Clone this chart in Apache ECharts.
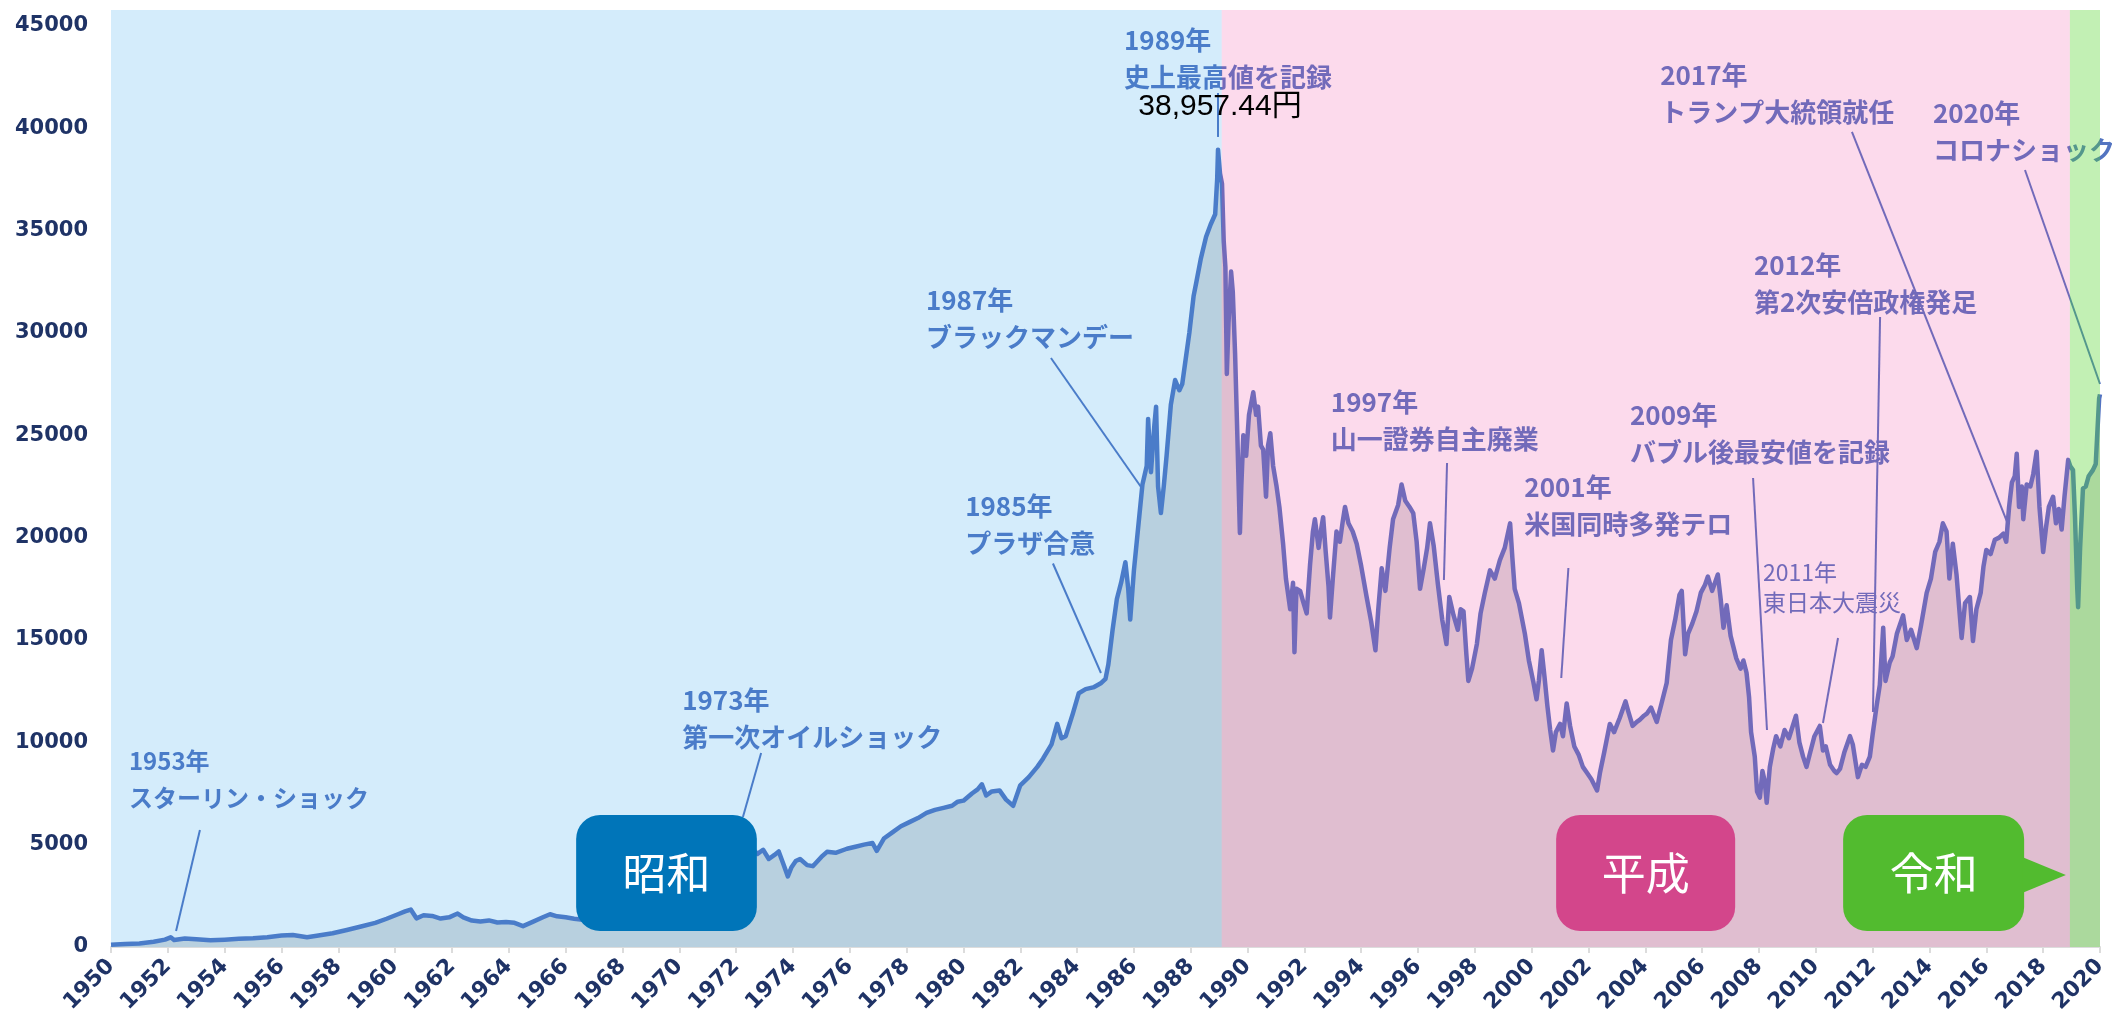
<!DOCTYPE html>
<html><head><meta charset="utf-8">
<script src="https://cdn.jsdelivr.net/npm/echarts@6/dist/echarts.min.js"></script>
<style>html,body{margin:0;padding:0;background:#fff}#c{width:2112px;height:1027px}</style>
</head><body><div id="c"></div>
<script>
// ---- DATA (x = year position on the axis, y = index level in yen) ----
const showaSeries = [[1950.0,110],[1950.5,150],[1951.0,170],[1951.5,260],[1951.9,360],[1952.1,474],[1952.22,340],[1952.6,420],[1953.0,380],[1953.5,330],[1954.0,360],[1954.5,400],[1955.0,425],[1955.5,480],[1956.0,560],[1956.4,590],[1956.9,480],[1957.3,560],[1957.8,670],[1958.3,830],[1958.8,1000],[1959.3,1180],[1959.7,1380],[1960.1,1600],[1960.35,1740],[1960.55,1829],[1960.75,1400],[1961.0,1550],[1961.3,1520],[1961.6,1390],[1961.9,1450],[1962.2,1634],[1962.4,1450],[1962.7,1290],[1963.0,1250],[1963.3,1300],[1963.6,1200],[1963.9,1220],[1964.2,1180],[1964.5,1020],[1964.8,1200],[1965.2,1450],[1965.45,1600],[1965.7,1500],[1966.0,1450],[1966.3,1380],[1966.6,1330],[1966.9,1270],[1967.2,1400],[1967.5,1600],[1967.8,1720],[1968.1,1750],[1968.5,2000],[1968.9,2350],[1969.25,2530],[1969.4,1950],[1969.7,2100],[1970.0,2000],[1970.4,2350],[1970.6,2700],[1970.65,2300],[1970.9,2700],[1971.2,3400],[1971.5,3900],[1971.8,4800],[1972.0,5350],[1972.3,4700],[1972.5,4900],[1972.75,4550],[1972.95,4750],[1973.15,4300],[1973.35,4500],[1973.5,4670],[1973.65,4100],[1973.82,3450],[1973.95,3900],[1974.1,4200],[1974.25,4300],[1974.5,4000],[1974.7,3950],[1975.0,4400],[1975.2,4650],[1975.5,4600],[1975.9,4800],[1976.2,4900],[1976.5,5000],[1976.8,5080],[1976.95,4700],[1977.2,5300],[1977.5,5600],[1977.8,5900],[1978.1,6100],[1978.4,6300],[1978.7,6550],[1979.0,6700],[1979.3,6800],[1979.6,6900],[1979.8,7100],[1980.0,7150],[1980.3,7500],[1980.5,7700],[1980.65,7950],[1980.8,7400],[1981.0,7600],[1981.27,7650],[1981.5,7200],[1981.75,6900],[1982.0,7900],[1982.3,8300],[1982.6,8800],[1982.8,9200],[1983.1,9900],[1983.3,10900],[1983.45,10200],[1983.6,10300],[1983.85,11400],[1984.06,12400],[1984.3,12600],[1984.6,12700],[1984.85,12900],[1985.0,13100],[1985.1,13800],[1985.25,15500],[1985.4,17000],[1985.55,17800],[1985.7,18800],[1985.8,17500],[1985.87,16000],[1986.0,18400],[1986.1,19800],[1986.3,22600],[1986.45,23500],[1986.5,25800],[1986.6,23200],[1986.72,25500],[1986.78,26400],[1986.85,22500],[1986.95,21200],[1987.05,22500],[1987.15,24000],[1987.3,26500],[1987.45,27700],[1987.6,27200],[1987.7,27500],[1987.8,28500],[1987.95,30000],[1988.1,31800],[1988.2,32500],[1988.35,33600],[1988.54,34700],[1988.7,35300],[1988.86,35800],[1988.93,37500],[1988.96,38957]];
const heiseiSeries = [[1989.03,37800],[1989.1,37300],[1989.16,34500],[1989.22,33200],[1989.27,28000],[1989.33,30500],[1989.42,33000],[1989.48,32000],[1989.56,29000],[1989.63,25500],[1989.73,20230],[1989.78,22500],[1989.85,25000],[1989.95,24000],[1990.05,26000],[1990.2,27100],[1990.3,26000],[1990.37,26400],[1990.47,24500],[1990.55,24300],[1990.65,22000],[1990.72,24500],[1990.8,25100],[1990.9,23500],[1991.02,22500],[1991.12,21500],[1991.25,19700],[1991.35,18000],[1991.5,16500],[1991.6,17800],[1991.65,14400],[1991.72,17500],[1991.85,17400],[1991.95,16900],[1992.08,16300],[1992.2,18700],[1992.3,20300],[1992.37,20900],[1992.5,19500],[1992.6,20500],[1992.66,21000],[1992.75,19300],[1992.85,17600],[1992.9,16100],[1993.0,18000],[1993.13,20300],[1993.25,19800],[1993.35,20800],[1993.43,21500],[1993.55,20700],[1993.7,20300],[1993.84,19700],[1994.0,18600],[1994.19,17100],[1994.35,15900],[1994.5,14500],[1994.6,16500],[1994.72,18500],[1994.85,17400],[1995.0,19500],[1995.12,20900],[1995.3,21600],[1995.42,22600],[1995.55,21800],[1995.7,21500],[1995.83,21200],[1995.95,19800],[1996.07,17500],[1996.2,18500],[1996.32,19500],[1996.42,20700],[1996.55,19600],[1996.7,17700],[1996.85,16000],[1997.0,14800],[1997.1,17100],[1997.25,16200],[1997.4,15500],[1997.5,16500],[1997.6,16400],[1997.7,14300],[1997.77,13000],[1997.9,13600],[1998.07,14800],[1998.2,16300],[1998.35,17300],[1998.53,18400],[1998.7,18000],[1998.88,18900],[1999.05,19500],[1999.24,20700],[1999.32,19000],[1999.4,17500],[1999.55,16800],[1999.76,15300],[1999.9,14000],[2000.05,13000],[2000.17,12100],[2000.25,13000],[2000.35,14500],[2000.45,13200],[2000.55,11800],[2000.65,10600],[2000.75,9600],[2000.85,10500],[2001.0,10900],[2001.1,10300],[2001.23,11900],[2001.35,10800],[2001.5,9800],[2001.65,9400],[2001.8,8800],[2001.95,8500],[2002.1,8200],[2002.3,7650],[2002.4,8500],[2002.55,9500],[2002.75,10900],[2002.9,10500],[2003.1,11200],[2003.3,12000],[2003.4,11500],[2003.55,10800],[2003.7,11000],[2003.8,11100],[2003.95,11300],[2004.05,11400],[2004.2,11700],[2004.4,11000],[2004.55,11800],[2004.75,12900],[2004.9,15000],[2005.05,16000],[2005.2,17200],[2005.28,17400],[2005.4,14300],[2005.5,15300],[2005.65,15800],[2005.8,16400],[2005.95,17300],[2006.1,17700],[2006.2,18100],[2006.35,17400],[2006.55,18200],[2006.65,17000],[2006.75,15600],[2006.86,16700],[2007.0,15200],[2007.2,14100],[2007.35,13600],[2007.45,14000],[2007.56,13400],[2007.65,12200],[2007.72,10500],[2007.85,9300],[2007.93,7600],[2008.03,7300],[2008.12,8600],[2008.2,8100],[2008.27,7050],[2008.38,8800],[2008.5,9700],[2008.6,10300],[2008.75,9800],[2008.9,10600],[2009.05,10200],[2009.3,11300],[2009.42,10000],[2009.55,9300],[2009.67,8800],[2009.8,9500],[2009.95,10300],[2010.14,10800],[2010.25,9600],[2010.35,9800],[2010.5,8900],[2010.65,8600],[2010.73,8500],[2010.85,8700],[2011.0,9500],[2011.2,10300],[2011.3,9900],[2011.48,8300],[2011.62,8900],[2011.75,8800],[2011.9,9300],[2012.0,10400],[2012.14,11800],[2012.25,12800],[2012.37,15600],[2012.45,13000],[2012.6,13900],[2012.7,14200],[2012.85,15300],[2013.07,16200],[2013.2,15000],[2013.35,15500],[2013.55,14600],[2013.7,15700],[2013.9,17300],[2014.05,18000],[2014.2,19300],[2014.35,19800],[2014.47,20700],[2014.6,20300],[2014.7,18000],[2014.82,19700],[2014.95,18200],[2015.13,15100],[2015.25,16800],[2015.42,17100],[2015.53,14950],[2015.65,16500],[2015.8,17300],[2015.9,18600],[2016.0,19400],[2016.15,19200],[2016.3,19900],[2016.45,20000],[2016.6,20200],[2016.7,19800],[2016.8,21500],[2016.9,22700],[2017.0,23000],[2017.07,24100],[2017.15,21500],[2017.25,22500],[2017.3,20900],[2017.42,22600],[2017.55,22500],[2017.65,23100],[2017.77,24200],[2017.87,21500],[2018.0,19300],[2018.1,20500],[2018.2,21500],[2018.35,22000],[2018.45,20700],[2018.55,21400],[2018.65,20400],[2018.75,22000],[2018.88,23800]];
const reiwaSeries = [[2018.95,23500],[2019.05,23300],[2019.12,21000],[2019.2,17500],[2019.23,16600],[2019.3,19500],[2019.4,22400],[2019.5,22500],[2019.6,23000],[2019.75,23300],[2019.85,23600],[2019.92,25500],[2019.97,26800],[2020.0,27000]];

const eraNames = ['昭和', '平成', '令和'];
const eraStarts = [1950, 1989.09, 2018.94];
const eraEnds = [1989.09, 2018.94, 2020];

const eventYears = ['1953年','1973年','1985年','1987年','1989年','1997年','2001年','2009年','2011年','2012年','2017年','2020年'];
const eventNames = ['スターリン・ショック','第一次オイルショック','プラザ合意','ブラックマンデー','史上最高値を記録','山一證券自主廃業','米国同時多発テロ','バブル後最安値を記録','東日本大震災','第2次安倍政権発足','トランプ大統領就任','コロナショック'];
const peakText = '38,957.44円';

// ---- LAYOUT / STYLE (annotation anchors in axis units) ----
const eraOverlay = ['rgba(40,160,235,0.2)', 'rgba(240,70,160,0.2)', 'rgba(86,213,47,0.36)'];
const eraBadgeColor = ['#0075b9', '#d3468b', '#52bb2f'];
const eraBadgeBox = [[1966.37, 1972.73], [2000.86, 2007.16], [2010.96, 2017.33]];
const badgeValRange = [782, 6450];
const pointerTip = [2018.8, 3520];
const eventLayout = [
  {text:[1950.63, 9088], a:[1953.13, 5717], b:[1952.29, 782], size:24},
  {text:[1970.10, 12068], a:[1972.88, 9479], b:[1972.24, 6352]},
  {text:[1980.06, 21547], a:[1983.15, 18738], b:[1984.84, 13388]},
  {text:[1978.68, 31612], a:[1983.08, 28779], b:[1986.25, 22476]},
  {text:[1985.65, 44316], a:[1988.96, 41726], b:[1988.96, 39577]},
  {text:[1992.93, 26629], a:[1997.02, 23648], b:[1996.91, 17932]},
  {text:[1999.74, 22476], a:[2001.29, 18518], b:[2001.04, 13143]},
  {text:[2003.46, 25994], a:[2007.79, 22915], b:[2008.28, 10603]},
  {text:[2008.14, 18323], a:[2010.78, 15098], b:[2010.25, 10945], small:true},
  {text:[2007.82, 33323], a:[2012.26, 30782], b:[2012.01, 11482]},
  {text:[2004.52, 42606], a:[2011.27, 39821], b:[2016.73, 20766]},
  {text:[2014.12, 40749], a:[2017.36, 37964], b:[2020.0, 27508]}
];
const peakTextPos = [1989.03, 41042];
const LINE = '#5374c1';
const AXIS_TXT = '#1f3366';

const chart = echarts.init(document.getElementById('c'), null, {renderer:'canvas'});
const allData = showaSeries.concat(heiseiSeries, reiwaSeries);
chart.setOption({
  animation: false,
  backgroundColor: '#ffffff',
  grid: {left: 111, right: 12, top: 10, bottom: 80},
  xAxis: {
    type: 'value', min: 1950, max: 2020, interval: 2,
    axisLine: {lineStyle: {color: '#dcdcdc', width: 2}},
    axisTick: {show: true, length: 6, lineStyle: {color: '#dcdcdc', width: 2}},
    splitLine: {show: false},
    axisLabel: {rotate: 45, margin: 16, color: AXIS_TXT, fontFamily: 'DejaVu Sans', fontWeight: 'bold', fontSize: 22, formatter: v => String(v)}
  },
  yAxis: {
    type: 'value', min: 0, max: 45780, interval: 5000,
    splitLine: {show: false}, axisLine: {show: false}, axisTick: {show: false},
    axisLabel: {showMaxLabel: false, margin: 23, color: AXIS_TXT, fontFamily: 'DejaVu Sans', fontWeight: 'bold', fontSize: 21, formatter: v => String(v)}
  },
  series: [{
    type: 'line', data: allData, symbol: 'none', z: 2,
    lineStyle: {color: LINE, width: 4.5, join: 'round'},
    areaStyle: {color: 'rgb(220,220,220)', opacity: 1},
    markArea: {
      silent: true, z: 10, label: {show: false},
      data: eraNames.map((n, i) => [{name: '', xAxis: eraStarts[i], itemStyle: {color: eraOverlay[i]}}, {xAxis: eraEnds[i]}])
    }
  }]
});

const px = p => chart.convertToPixel({xAxisIndex: 0, yAxisIndex: 0}, p);
const g = [];
eventLayout.forEach((L, i) => {
  const t = px(L.text), a = px(L.a), b = px(L.b);
  const fs = L.small ? 23 : (L.size || 26), lh = L.small ? 30 : 37;
  g.push({type: 'text', z: 5, silent: true, x: t[0], y: t[1] - lh / 2,
    style: {text: eventYears[i] + '\n' + eventNames[i], fill: LINE,
      font: (L.small ? '' : 'bold ') + fs + 'px "Noto Sans CJK JP"', lineHeight: lh, align: 'left', verticalAlign: 'top'}});
  g.push({type: 'line', z: 5, silent: true, shape: {x1: a[0], y1: a[1], x2: b[0], y2: b[1]}, style: {stroke: LINE, lineWidth: 2}});
});
const pk = px(peakTextPos);
g.push({type: 'text', z: 20, silent: true, x: pk[0], y: pk[1],
  style: {text: peakText, fill: '#000', font: '30px "Liberation Sans", "Noto Sans CJK JP"', align: 'center', verticalAlign: 'middle'}});
eraNames.forEach((n, i) => {
  const tl = px([eraBadgeBox[i][0], badgeValRange[1]]), br = px([eraBadgeBox[i][1], badgeValRange[0]]);
  g.push({type: 'rect', z: 20, silent: true, shape: {x: tl[0], y: tl[1], width: br[0] - tl[0], height: br[1] - tl[1], r: 24}, style: {fill: eraBadgeColor[i]}});
  g.push({type: 'text', z: 21, silent: true, x: (tl[0] + br[0]) / 2, y: (tl[1] + br[1]) / 2,
    style: {text: n, fill: '#fff', font: '44px "Noto Sans CJK JP"', align: 'center', verticalAlign: 'middle'}});
  if (i === 2) {
    const tip = px(pointerTip);
    g.push({type: 'polygon', z: 20, silent: true, shape: {points: [[br[0] - 2, tip[1] - 18], [tip[0], tip[1]], [br[0] - 2, tip[1] + 18]]}, style: {fill: eraBadgeColor[i]}});
  }
});
chart.setOption({graphic: g});
</script>
</body></html>
